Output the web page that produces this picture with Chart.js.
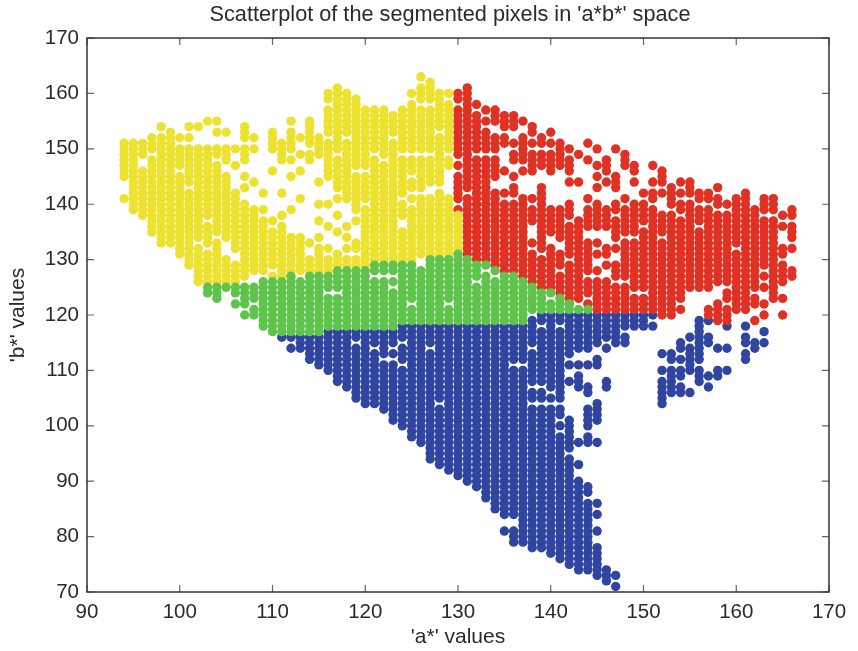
<!DOCTYPE html>
<html>
<head>
<meta charset="utf-8">
<title>Scatterplot</title>
<script src="https://cdn.jsdelivr.net/npm/chart.js@4"></script>
<style>
  body { margin: 0; background: #fff; }
  canvas { display: block; }
</style>
</head>
<body>
<canvas id="scatterChart" width="858" height="651"></canvas>
<script>
// a* columns and the b* values for each column
const yellowColumns = [94,95,96,97,98,99,100,101,102,103,104,105,106,107,108,109,110,111,112,113,114,115,116,117,118,119,120,121,122,123,124,125,126,127,128,129,130];
const yellowValues = [
[151,150,149,148,147,146,145,141],
[151,150,149,148,147,146,145,144,143,142,141,140,139],
[151,150,149,146,145,144,143,142,141,140,139,138],
[152,151,150,148,147,146,145,144,143,142,141,140,139,138,137,136,135],
[154,152,151,150,149,148,147,146,145,144,143,142,141,140,139,138,137,136,135,134,133],
[153,152,151,150,149,148,147,146,145,144,143,142,141,140,139,138,137,136,135,134,133],
[152,150,149,148,147,145,144,143,142,141,140,139,138,137,136,135,134,133,132,131],
[154,152,150,149,148,147,146,145,144,142,141,140,139,138,137,136,135,134,133,132,131,130,129],
[154,150,149,148,147,146,145,144,143,142,141,140,139,138,137,136,135,134,132,131,130,129,128,127,126],
[155,150,149,148,147,146,145,144,143,142,141,140,139,138,136,135,134,133,131,130,129,128,127,126],
[155,153,150,149,147,146,145,144,143,142,141,140,139,138,137,136,135,133,132,131,130,129,128,127,126],
[153,150,149,148,145,144,143,142,141,140,139,138,137,136,135,134,130,129,128,127,126],
[150,147,142,141,140,139,138,137,136,135,134,133,132,129,128,127,126],
[154,153,152,150,149,148,145,143,140,139,138,137,136,135,134,133,132,131,130,129,128,127],
[152,150,144,139,138,137,136,135,134,133,132,131,130,129,128],
[142,139,137,136,135,134,133,132,131,130,129,128],
[153,152,151,150,146,137,135,134,133,132,131,130,129,127],
[151,150,149,148,142,138,136,135,134,133,132,131,130,129,128,127],
[155,153,152,151,150,148,145,139,134,133,132,131,130,129,128],
[152,149,146,141,134,133,132,131,130,129,128],
[155,154,153,152,151,149,148,133,130,129,128],
[152,151,150,149,144,140,137,134,132,131,130,129,128],
[160,159,157,156,155,154,153,151,150,149,148,147,146,145,140,136,132,130,129,128],
[161,160,159,158,157,156,155,154,153,152,151,150,148,147,146,145,144,143,141,138,135,131,130,129],
[160,159,158,157,156,155,154,153,151,150,149,148,147,146,145,144,143,142,141,136,134,132,130,129],
[159,158,157,156,155,154,153,152,151,150,149,148,147,145,144,143,142,141,140,139,137,133,132,130,129],
[157,156,155,154,153,152,151,150,149,148,147,145,144,143,142,141,139,138,137,136,135,134,133,132,131,130,129],
[157,156,155,154,153,152,151,150,148,147,146,145,144,143,142,141,140,139,138,137,136,135,134,133,132,131,130],
[157,156,155,154,153,152,151,150,149,147,146,145,144,143,142,141,140,139,138,137,136,135,134,133,132,131,130],
[156,155,154,153,151,150,149,148,147,146,145,144,143,142,141,140,139,138,137,136,135,134,133,132,131,130],
[157,156,155,154,153,152,151,150,148,147,146,145,144,143,142,140,139,138,135,134,133,132,131,130],
[160,158,157,156,155,154,153,152,151,150,148,147,146,144,143,141,139,138,137,136,135,134,133,132,131,130],
[163,161,160,159,157,156,155,154,153,152,151,150,148,147,146,145,144,143,141,140,139,138,137,136,135,134,133,132,131],
[162,161,160,159,157,156,155,154,153,152,151,150,148,147,146,145,144,141,140,139,138,137,136,135,134,133,132,131],
[160,159,158,157,156,155,154,152,151,150,149,148,147,146,145,144,142,141,140,139,138,137,136,135,134,133,132,131],
[160,158,157,156,155,154,153,152,151,150,148,147,141,140,139,138,137,136,135,134,133,132,131],
[138,137,136,135,134,133,132]
];

const greenColumns = [103,104,105,106,107,108,109,110,111,112,113,114,115,116,117,118,119,120,121,122,123,124,125,126,127,128,129,130,131,132,133,134,135,136,137,138,139,140,141,142,143,144];
const greenValues = [
[125,124],
[125,124,123],
[125],
[125,124,122],
[125,124,123,122,120],
[125,124,123,121,120],
[126,125,124,123,122,121,120,119,118],
[126,125,124,123,122,121,120,119,118,117],
[126,125,124,123,122,121,120,119,118,117],
[127,126,125,124,123,122,121,120,119,118,117],
[126,125,124,123,122,121,120,119,118,117],
[127,126,125,124,123,122,121,120,119,118,117],
[127,126,125,124,123,122,121,120,119,118,117],
[127,126,125,123,122,121,120,119,118],
[128,127,126,125,123,122,121,120,119,118],
[128,127,126,125,124,123,122,121,120,119,118],
[128,127,126,125,124,123,122,121,120,119,118],
[128,127,126,125,124,123,122,121,120,119,118],
[129,128,126,125,124,123,122,121,120,119,118],
[129,128,126,125,124,123,122,121,120,119,118],
[129,128,126,124,123,122,121,120,119,118],
[129,128,127,126,125,124,123,122,121,120,119],
[129,128,127,126,125,124,123,121,120,119],
[128,127,126,125,124,123,122,121,120,119],
[130,129,128,127,126,125,124,123,122,121,120,119],
[130,129,128,127,126,125,124,123,122,121,120,119],
[130,129,128,127,126,125,124,123,121,120,119],
[131,130,129,128,127,126,125,124,123,122,121,120,119],
[130,129,128,127,126,125,124,123,122,121,120,119],
[129,128,127,125,124,123,122,121,120,119],
[129,127,126,125,124,123,122,121,120,119],
[128,126,125,124,123,122,121,120,119],
[127,126,125,124,123,122,121,120,119],
[127,126,125,124,123,122,121,120,119],
[126,125,124,123,122,121,120,119],
[125,124,123,122,121],
[124,123,122,121],
[124,122,121],
[123,122,121],
[122,121],
[121],
[121]
];

const redColumns = [130,131,132,133,134,135,136,137,138,139,140,141,142,143,144,145,146,147,148,149,150,151,152,153,154,155,156,157,158,159,160,161,162,163,164,165,166];
const redValues = [
[160,159,157,156,155,154,153,152,151,150,149,147,145,144,143,142,141,139],
[161,160,159,158,157,156,155,154,153,152,151,150,149,148,147,146,145,144,143,141,140,139,138,137,136,135,134,133,132,131],
[158,156,155,154,153,152,151,150,148,147,146,145,144,143,142,141,140,139,138,137,136,135,134,133,132,131,130],
[157,155,153,152,151,150,148,147,146,145,144,143,142,141,140,139,138,137,136,135,134,133,132,131,130],
[157,156,155,152,151,150,148,147,146,145,142,141,140,139,138,137,136,135,134,133,132,131,130,129],
[156,155,154,152,151,146,142,140,139,138,137,136,135,134,133,132,131,130,129,128],
[156,155,154,151,149,148,145,143,142,140,139,138,137,136,135,134,133,132,131,130,129,128],
[155,152,151,150,149,148,146,141,140,139,138,137,136,135,134,133,132,131,130,129,128,127],
[154,153,151,149,148,147,146,141,139,138,137,133,131,130,129,128,127,126],
[152,151,149,148,147,143,142,141,140,139,138,137,136,135,134,133,132,130,129,128,127,126,125],
[153,151,149,148,147,146,139,138,137,136,135,132,131,130,129,128,127,126,125],
[151,150,149,148,147,139,138,137,136,135,134,131,130,129,127,126,125,124],
[150,148,147,146,144,140,139,138,136,135,134,133,132,131,129,128,127,126,125,124,123,122],
[149,144,137,136,135,134,133,132,131,130,129,128,127,126,125,124,123],
[151,148,141,139,138,137,136,133,132,131,130,129,128,126,125,124,122],
[150,147,145,143,140,139,138,137,136,133,131,128,126,125,124,123,122,121],
[148,147,146,144,139,138,137,136,132,131,129,126,125,124,123,122,121],
[150,145,144,143,140,139,137,136,135,134,132,129,128,127,125,124,123,122,121],
[149,148,147,141,139,138,137,136,135,133,132,131,130,129,128,127,125,124,123,122,121],
[147,146,144,140,139,138,137,136,135,133,132,131,130,129,128,127,126,125,123,122,121],
[142,140,139,138,137,135,134,133,132,131,130,129,128,127,126,125,123,122,121],
[147,144,142,141,139,138,137,136,135,134,133,132,131,130,129,128,127,126,125,124,123,122,121],
[146,145,144,142,138,137,136,135,133,132,131,130,129,128,127,126,125,124,123,122,121,120],
[143,142,141,140,138,137,136,135,134,133,132,131,130,129,128,127,126,125,124,123,122,121,120],
[144,142,140,139,137,136,135,134,133,132,131,130,129,128,127,126,125,124,123,121],
[144,143,142,140,139,138,137,136,135,134,133,132,131,130,129,128,127,126,125],
[142,141,139,138,137,135,134,133,132,131,130,129,128,127,126,125],
[142,141,139,138,137,136,135,134,133,132,131,130,129,128,127,126,125,121,120],
[143,141,140,138,137,136,135,134,133,132,131,130,129,128,127,126,122,121,120,119],
[140,138,137,136,135,134,133,132,131,130,129,128,127,126,124,123,121,120,119],
[141,140,139,138,137,136,135,134,133,131,130,129,128,127,126,125,124,123,122,121],
[142,141,140,139,138,137,136,135,134,133,132,131,130,129,128,127,126,125,124,123,122,121],
[139,138,137,136,135,134,133,132,131,130,129,128,127,126,125,123,122,119],
[141,140,139,137,136,135,134,133,132,131,130,129,127,125,122,120],
[141,140,139,137,136,135,134,133,132,131,130,129,128,127,126,125,124,123],
[138,136,132,131,129,128,127,126,123,120],
[139,138,136,135,134,132,128,127]
];

const blueColumns = [111,112,113,114,115,116,117,118,119,120,121,122,123,124,125,126,127,128,129,130,131,132,133,134,135,136,137,138,139,140,141,142,143,144,145,146,147,148,149,150,151,152,153,154,155,156,157,158,159,161,162,163];
const blueValues = [
[116],
[116,114],
[116,115,114],
[116,115,114,113,112],
[116,115,114,113,112,111],
[117,116,115,114,113,112,111,110],
[117,116,115,114,113,112,111,110,109,108],
[117,116,115,114,113,112,111,110,109,108,107],
[117,116,114,113,112,111,110,109,108,107,106,105],
[117,116,115,114,113,112,111,110,109,108,107,106,105,104],
[117,116,115,113,112,111,110,109,108,107,106,105,104],
[117,116,115,114,113,111,110,109,108,107,106,105,104,103],
[117,116,115,113,111,110,109,108,107,106,105,104,103,102,101],
[118,117,116,114,113,112,110,109,108,107,106,105,104,103,102,101,100],
[118,117,116,115,114,113,112,111,110,109,108,107,106,105,104,103,102,101,100,99,98],
[118,117,116,115,114,113,112,111,110,109,108,107,106,105,104,103,102,101,100,99,98,97],
[118,117,116,115,113,112,111,110,109,108,107,106,105,104,103,102,101,100,99,98,97,96,95,94],
[118,117,116,115,114,113,112,111,110,109,108,107,106,105,103,102,101,100,99,98,97,96,95,94,93],
[118,117,116,115,114,113,112,111,110,109,108,107,106,105,104,103,102,101,100,99,98,97,96,95,94,93,92],
[118,117,116,115,114,113,112,111,110,109,108,107,106,105,104,103,102,101,100,99,98,97,96,95,94,93,92,91],
[118,117,116,115,114,113,112,111,110,109,108,107,106,105,104,103,102,101,100,99,98,97,96,95,94,93,92,91,90],
[118,117,116,115,114,113,112,111,110,109,108,107,106,105,104,103,102,101,100,99,98,97,96,95,94,93,92,91,90,89],
[118,117,116,115,114,113,112,111,110,109,108,107,106,105,104,103,102,101,100,99,98,97,96,95,94,93,92,91,90,89,88,87],
[118,117,116,115,114,113,112,111,110,109,108,107,106,105,104,103,102,101,100,99,98,97,96,95,94,93,92,91,90,89,88,87,86,85],
[118,117,116,115,114,113,112,111,110,109,108,107,106,105,104,103,102,101,100,99,98,97,96,95,94,93,92,91,90,89,88,87,86,85,84,81],
[118,117,116,115,114,113,112,110,109,108,107,106,105,104,103,102,101,100,99,98,97,96,95,94,93,92,91,90,89,88,87,86,85,84,81,80,79],
[118,117,116,115,114,113,112,110,109,108,107,106,105,104,103,102,101,100,99,98,97,96,95,94,93,92,91,90,89,88,87,86,85,84,83,82,81,80,79],
[119,118,117,116,115,113,112,111,110,109,108,106,105,103,102,101,100,99,98,97,96,95,94,93,92,91,90,89,88,87,86,85,84,83,82,81,80,79,78],
[120,119,117,116,115,114,113,112,111,110,109,108,106,105,103,102,101,100,99,98,97,96,95,94,93,92,91,90,89,88,87,86,85,84,83,82,81,80,79,78],
[120,119,118,117,116,115,114,113,112,111,110,109,108,107,105,103,102,101,100,99,98,97,96,95,94,93,92,91,90,89,88,87,86,85,84,83,82,81,80,79,78,77],
[120,119,117,116,115,114,113,112,111,110,109,108,107,106,105,103,102,100,98,97,96,95,94,93,92,91,90,89,88,87,86,85,84,83,82,81,80,79,78,77,76],
[120,119,118,117,116,115,114,113,111,108,101,100,99,98,97,96,94,93,92,91,90,89,88,87,86,85,84,83,82,81,80,79,78,77,76,75],
[120,119,118,117,116,115,114,111,109,108,107,97,93,90,89,88,87,86,85,84,83,82,81,80,79,78,77,76,75,74],
[120,119,118,117,116,115,114,111,107,106,103,102,101,100,98,97,89,88,86,85,84,83,82,81,80,79,78,77,76,75,74],
[120,119,118,117,116,115,112,111,104,103,102,101,97,86,84,81,78,77,76,75,74,73],
[120,119,118,117,116,114,108,107,74,73,72],
[120,119,118,117,116,115,73,71],
[120,119,118,116,115],
[120,119,118],
[120,119,118],
[120,118],
[113,110,108,107,106,105,104],
[113,112,110,109,108,107,106],
[115,114,112,110,109,107,106],
[116,114,113,112,111,110,106],
[119,118,117,116,115,114,113,112,110,109,108],
[119,116,115,109,107],
[114,110,109],
[118,114,110],
[118,116,115,113,112],
[115,114],
[117,115]
];

const xTicks = [90,100,110,120,130,140,150,160,170];
const yTicks = [70,80,90,100,110,120,130,140,150,160,170];

const toPoints = (columns, values) =>
  columns.flatMap((a, i) => values[i].map(b => ({ x: a, y: b })));

// box round the plot and the short inward tick marks
const boxPlugin = {
  id: 'box',
  beforeDraw(chart) {
    // title sits a little left of the plot centre in the original
    chart.titleBlock.left = 71;
  },
  afterDatasetsDraw(chart) {
    const { ctx, chartArea: area, scales } = chart;
    ctx.save();
    ctx.strokeStyle = '#666';
    ctx.lineWidth = 1.2;
    ctx.beginPath();
    scales.x.ticks.forEach(t => {
      const px = scales.x.getPixelForValue(t.value);
      ctx.moveTo(px, area.bottom);
      ctx.lineTo(px, area.bottom - 7);
      ctx.moveTo(px, area.top);
      ctx.lineTo(px, area.top + 7);
    });
    scales.y.ticks.forEach(t => {
      const py = scales.y.getPixelForValue(t.value);
      ctx.moveTo(area.left, py);
      ctx.lineTo(area.left + 7, py);
      ctx.moveTo(area.right, py);
      ctx.lineTo(area.right - 7, py);
    });
    ctx.stroke();
    ctx.strokeStyle = '#333';
    ctx.lineWidth = 1.5;
    ctx.strokeRect(area.left, area.top, area.right - area.left, area.bottom - area.top);
    ctx.restore();
  }
};

const dotStyle = { pointRadius: 4.7, pointBorderWidth: 0, showLine: false };

new Chart(document.getElementById('scatterChart').getContext('2d'), {
  type: 'scatter',
  data: {
    // first dataset is painted on top
    datasets: [
      { label: 'green', data: toPoints(greenColumns, greenValues), backgroundColor: '#5fc44c', ...dotStyle },
      { label: 'yellow', data: toPoints(yellowColumns, yellowValues), backgroundColor: '#ede22f', ...dotStyle },
      { label: 'red', data: toPoints(redColumns, redValues), backgroundColor: '#e03224', ...dotStyle },
      { label: 'blue', data: toPoints(blueColumns, blueValues), backgroundColor: '#2f45a0', ...dotStyle }
    ]
  },
  options: {
    responsive: false,
    animation: false,
    layout: { padding: { left: 0, right: 29, top: 0, bottom: 0 } },
    plugins: {
      legend: { display: false },
      tooltip: { enabled: false },
      title: {
        display: true,
        text: "Scatterplot of the segmented pixels in 'a*b*' space",
        color: '#2b2b2b',
        font: { family: '"Liberation Sans", Arial, sans-serif', size: 21.7, weight: 'normal' },
        padding: { top: 2, bottom: 10 }
      }
    },
    scales: {
      x: {
        type: 'linear',
        min: 90,
        max: 170,
        afterBuildTicks: scale => { scale.ticks = xTicks.map(v => ({ value: v })); },
        afterFit: scale => { scale.height = 59; },
        grid: { display: false },
        border: { display: false },
        ticks: {
          color: '#2b2b2b',
          padding: 0,
          maxRotation: 0,
          font: { family: '"Liberation Sans", Arial, sans-serif', size: 20.5 }
        },
        title: {
          display: true,
          text: "'a*' values",
          color: '#2b2b2b',
          padding: { top: 0, bottom: 1 },
          font: { family: '"Liberation Sans", Arial, sans-serif', size: 21 }
        }
      },
      y: {
        type: 'linear',
        min: 70,
        max: 170,
        afterBuildTicks: scale => { scale.ticks = yTicks.map(v => ({ value: v })); },
        afterFit: scale => { scale.width = 87; },
        grid: { display: false },
        border: { display: false },
        ticks: {
          color: '#2b2b2b',
          padding: 0,
          font: { family: '"Liberation Sans", Arial, sans-serif', size: 20.5 }
        },
        title: {
          display: true,
          text: "'b*' values",
          color: '#2b2b2b',
          padding: { top: 6, bottom: 0 },
          font: { family: '"Liberation Sans", Arial, sans-serif', size: 21 }
        }
      }
    }
  },
  plugins: [boxPlugin]
});
</script>
</body>
</html>
